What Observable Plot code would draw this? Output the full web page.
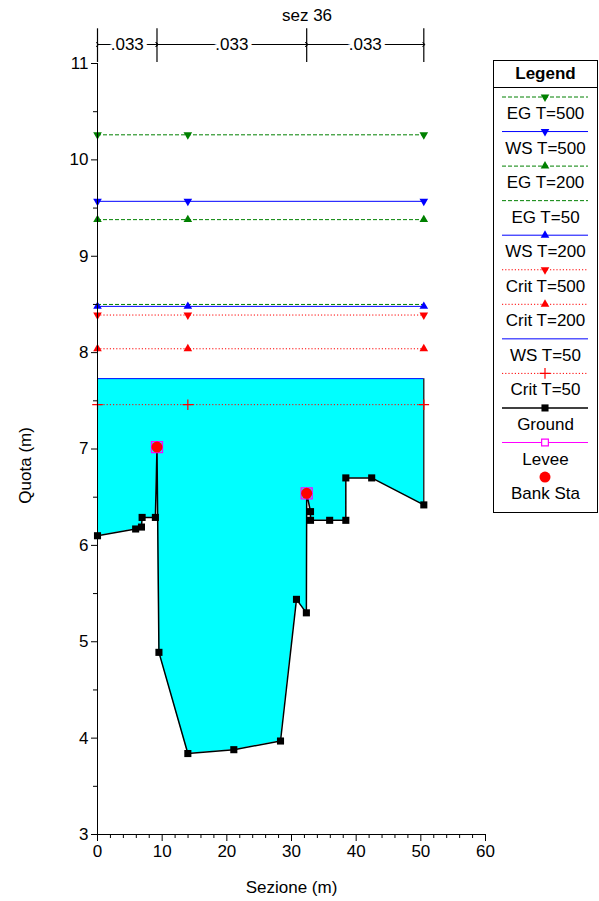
<!DOCTYPE html>
<html><head><meta charset="utf-8">
<script src="https://cdn.jsdelivr.net/npm/d3@7"></script>
<script src="https://cdn.jsdelivr.net/npm/@observablehq/plot@0.6"></script>
<style>
body{margin:0;background:#fff;}
#wrap{position:relative;width:599px;height:901px;font-family:"Liberation Sans",Arial,sans-serif;}
#legend{position:absolute;left:493px;top:60px;}
</style></head><body><div id="wrap"></div>
<script>
// ---- data ----
const groundX = [0, 5.9, 6.8, 6.9, 8.95, 9.2, 9.5, 13.97, 21.08, 28.3, 30.77, 32.3, 32.35, 32.94, 32.94, 35.9, 38.4, 38.4, 42.4, 50.46];
const groundY = [6.10, 6.17, 6.19, 6.29, 6.29, 7.02, 4.89, 3.84, 3.88, 3.97, 5.44, 5.30, 6.54, 6.35, 6.26, 6.26, 6.26, 6.70, 6.70, 6.42];
const bankX = [9.2, 32.35];
const bankY = [7.02, 6.54];
const profNames = ["EG T=500", "WS T=500", "EG T=200", "EG T=50", "WS T=200", "Crit T=500", "Crit T=200", "WS T=50", "Crit T=50"];
const profElev = [10.26, 9.57, 9.38, 8.50, 8.48, 8.39, 8.04, 7.73, 7.46];
const markerStations = [0, 13.97, 50.46];
const nValues = [".033", ".033", ".033"];
const nBounds = [0, 9.2, 32.35, 50.46];
const xTicks = [0, 10, 20, 30, 40, 50, 60];
const yTicks = [3, 4, 5, 6, 7, 8, 9, 10, 11];
const legendNames = [...profNames, "Ground", "Levee", "Bank Sta"];
const titleText = "sez 36";
const xLabel = "Sezione (m)";
const yLabel = "Quota (m)";

// ---- styles ----
const typeStyle = {
  EG: {stroke: "#008000", dash: "4,2"},
  WS: {stroke: "#0000ff", dash: null},
  Crit: {stroke: "#ff0000", dash: "1.2,2"}
};
const markerOf = {
  "EG T=500": "down", "WS T=500": "down", "EG T=200": "up", "EG T=50": null,
  "WS T=200": "up", "Crit T=500": "down", "Crit T=200": "up", "WS T=50": null, "Crit T=50": "plus"
};
const styleOf = n => typeStyle[n.split(" ")[0]];

const ground = groundX.map((x, i) => ({x, y: groundY[i]}));
const banks = bankX.map((x, i) => ({x, y: bankY[i]}));
const xMin = d3.min(groundX), xMax = d3.max(groundX);
const wsLevel = profElev[profNames.indexOf("WS T=50")];
const segs = nValues.map((n, i) => ({n, a: nBounds[i], b: nBounds[i + 1]}));
const FONT = "Liberation Sans, Arial, sans-serif";
const FS = 17;

const marks = [];
// water fill
marks.push(Plot.areaY(ground, {x: "x", y1: "y", y2: () => wsLevel, fill: "#00ffff", curve: "linear"}));
marks.push(Plot.ruleX([xMax], {y1: ground[ground.length - 1].y, y2: wsLevel, stroke: "black", strokeWidth: 1.2}));
// profile lines
profNames.forEach((name, i) => {
  const s = styleOf(name);
  marks.push(Plot.ruleY([profElev[i]], {x1: xMin, x2: xMax, stroke: s.stroke, strokeWidth: 1, strokeDasharray: s.dash}));
});
profNames.forEach((name, i) => {
  const s = styleOf(name), m = markerOf[name];
  if (!m) return;
  if (m === "plus") {
    marks.push(Plot.dot(markerStations, {x: d => d, y: () => profElev[i], symbol: "plus", stroke: s.stroke, r: 3.5, strokeWidth: 1.2}));
  } else {
    marks.push(Plot.dot(markerStations, {x: d => d, y: () => profElev[i], symbol: "triangle", fill: s.stroke, stroke: "none", r: 3.2, rotate: m === "down" ? 180 : 0}));
  }
});
// ground
marks.push(Plot.line(ground, {x: "x", y: "y", stroke: "black", strokeWidth: 1.5}));
marks.push(Plot.dot(ground, {x: "x", y: "y", symbol: "square", fill: "black", stroke: "none", r: 4}));
// levee / bank
marks.push(Plot.dot(banks, {x: "x", y: "y", symbol: "square", fill: "none", stroke: "#ff00ff", strokeWidth: 1.3, r: 6.2}));
marks.push(Plot.dot(banks, {x: "x", y: "y", fill: "#ff0000", stroke: "none", r: 5.5}));
// axes
marks.push(Plot.ruleX([0], {stroke: "black"}));
marks.push(Plot.ruleY([3], {stroke: "black"}));
marks.push(Plot.axisX({ticks: xTicks, tickSize: 7, tickPadding: 3, fontSize: FS, label: null}));
marks.push(Plot.axisX({ticks: d3.range(2, 60, 2).filter(v => v % 10), tickSize: 4, tickFormat: () => "", label: null}));
marks.push(Plot.axisY({ticks: yTicks, tickSize: 6, tickPadding: 3, fontSize: FS, label: null}));
marks.push(Plot.axisY({ticks: d3.range(3.5, 11, 1), tickSize: 4, tickFormat: () => "", label: null}));
// roughness (n) annotations
marks.push(Plot.ruleX(nBounds, {y1: 11.01, y2: 11.36, stroke: "black", strokeWidth: 1.2}));
marks.push(Plot.link(segs, {x1: "a", x2: "b", y1: () => 11.197, y2: () => 11.197, stroke: "black", markerStart: "arrow", markerEnd: "arrow"}));
marks.push(Plot.text(segs, {x: d => (d.a + d.b) / 2, y: () => 11.197, text: "n", fill: "black", stroke: "white", strokeWidth: 8, fontSize: FS}));
// titles
marks.push(Plot.text([titleText], {x: () => 32.4, y: () => 11.5, fontSize: FS, fill: "black", textAnchor: "middle"}));
marks.push(Plot.text([xLabel], {x: () => 30, y: () => 2.45, fontSize: FS, fill: "black", textAnchor: "middle"}));
marks.push(Plot.text([yLabel], {x: () => -11.1, y: () => 6.83, rotate: -90, fontSize: FS, fill: "black", textAnchor: "middle"}));

const chart = Plot.plot({
  width: 599, height: 901,
  marginLeft: 97, marginRight: 114, marginTop: 63, marginBottom: 67,
  x: {domain: [0, 60], label: null},
  y: {domain: [3, 11], label: null},
  style: {fontFamily: FONT, fontSize: FS + "px", background: "white", color: "black", overflow: "visible"},
  marks
});
document.getElementById("wrap").appendChild(chart);

// ---- legend ----
const LW = 105, LH = 453;
const lg = d3.select("#wrap").append("svg").attr("id", "legend").attr("width", LW).attr("height", LH)
  .style("font-family", FONT);
lg.append("rect").attr("x", 0.5).attr("y", 0.5).attr("width", LW - 1).attr("height", LH - 1).attr("fill", "white").attr("stroke", "black");
lg.append("text").attr("x", LW / 2).attr("y", 19).attr("text-anchor", "middle").attr("font-weight", "bold").attr("font-size", FS).text("Legend");
lg.append("line").attr("x1", 0).attr("x2", LW).attr("y1", 27.5).attr("y2", 27.5).attr("stroke", "black");
const sym = (type, r) => d3.symbol().type(type).size(Math.PI * r * r)();
legendNames.forEach((name, i) => {
  const ly = 37 + i * 34.55;
  const g = lg.append("g");
  let stroke, dash = null;
  if (profNames.includes(name)) { const s = styleOf(name); stroke = s.stroke; dash = s.dash; }
  else if (name === "Ground") stroke = "black";
  else if (name === "Levee") stroke = "#ff00ff";
  if (stroke) g.append("line").attr("x1", 9).attr("x2", 95).attr("y1", ly).attr("y2", ly)
    .attr("stroke", stroke).attr("stroke-width", name === "Ground" ? 1.5 : 1).attr("stroke-dasharray", dash);
  const m = markerOf[name];
  const cx = 52;
  if (m === "down" || m === "up") g.append("path").attr("d", sym(d3.symbolTriangle, 3.2))
    .attr("transform", `translate(${cx},${ly}) rotate(${m === "down" ? 180 : 0})`).attr("fill", stroke);
  else if (m === "plus") g.append("path").attr("d", d3.symbol().type(d3.symbolPlus).size(Math.PI * 3.5 * 3.5)())
    .attr("transform", `translate(${cx},${ly})`).attr("fill", "none").attr("stroke", stroke).attr("stroke-width", 1.2);
  else if (name === "Ground") g.append("path").attr("d", sym(d3.symbolSquare, 4)).attr("transform", `translate(${cx},${ly})`).attr("fill", "black");
  else if (name === "Levee") g.append("path").attr("d", sym(d3.symbolSquare, 3.8)).attr("transform", `translate(${cx},${ly})`).attr("fill", "white").attr("stroke", "#ff00ff").attr("stroke-width", 1.2);
  else if (name === "Bank Sta") g.append("circle").attr("cx", cx).attr("cy", ly).attr("r", 5.5).attr("fill", "#ff0000");
  g.append("text").attr("x", LW / 2).attr("y", ly + 22).attr("text-anchor", "middle").attr("font-size", FS).text(name);
});
</script></body></html>
